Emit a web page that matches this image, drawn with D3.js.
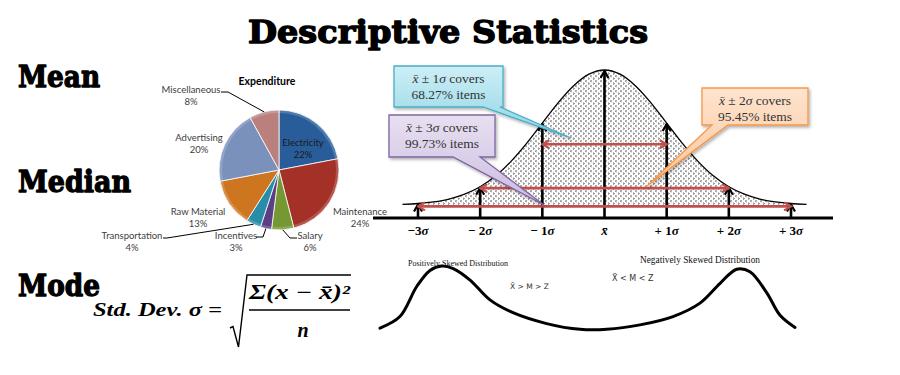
<!DOCTYPE html>
<html>
<head>
<meta charset="utf-8">
<script src="https://cdn.jsdelivr.net/npm/d3@7"></script>
<style>
  body { margin: 0; background: #fff; }
  svg { display: block; }
</style>
</head>
<body>
<script>
// ---- Expenditure pie ----
const categories = ["Electricity", "Maintenance", "Salary", "Incentives", "Transportation", "Raw Material", "Advertising", "Miscellaneous"];
const shares = [22, 24, 6, 3, 4, 13, 20, 8];
const sliceColors = ["#2F6DB5", "#C0392F", "#8AB23C", "#6A4A9C", "#2FA6C6", "#F28B24", "#8EAADB", "#D99694"];

// ---- Normal curve: height relative to the peak at each z ----
const bellZ = [-3.25, -3, -2.75, -2.5, -2.25, -2, -1.75, -1.5, -1.25, -1, -0.75, -0.5, -0.25, 0,
               0.25, 0.5, 0.75, 1, 1.25, 1.5, 1.75, 2, 2.25, 2.5, 2.75, 3, 3.25];
const bellH = [0.005, 0.011, 0.023, 0.044, 0.080, 0.135, 0.216, 0.325, 0.458, 0.607, 0.755, 0.882, 0.969, 1,
               0.969, 0.882, 0.755, 0.607, 0.458, 0.325, 0.216, 0.135, 0.080, 0.044, 0.023, 0.011, 0.005];

const sigmaTicks = [-3, -2, -1, 0, 1, 2, 3];
const sigmaLabels = [["−3", "σ"], ["− 2", "σ"], ["− 1", "σ"], ["", "x̄"], ["+ 1", "σ"], ["+ 2", "σ"], ["+ 3", "σ"]];

// coverage of x̄ ± kσ
const coverK = [1, 2, 3];
const coverPct = ["68.27%", "95.45%", "99.73%"];

// ---- Skewed distributions profile ----
const skewX = [0, 0.96, 1.77, 2.41, 2.97, 3.53, 4.34, 5.30, 6.41, 8.03, 9.64, 10.93, 12.53, 14.12, 15.42, 16.39, 17.19, 17.83, 18.64, 19.28, 20];
const skewY = [0.03, 0.21, 0.68, 0.93, 1.0, 0.96, 0.78, 0.47, 0.27, 0.10, 0.01, 0.01, 0.08, 0.21, 0.42, 0.73, 0.95, 0.91, 0.58, 0.23, 0.04];

const W = 900, H = 375;
const svg = d3.select("body").append("svg").attr("width", W).attr("height", H);
svg.append("rect").attr("width", W).attr("height", H).attr("fill", "#fff");
const defs = svg.append("defs");

const heavy = "'DejaVu Serif', serif";
const mathFont = "'Liberation Serif', 'DejaVu Serif', serif";

// ---------- Headings ----------
svg.append("text")
  .attr("x", 248).attr("y", 43)
  .attr("textLength", 400).attr("lengthAdjust", "spacingAndGlyphs")
  .style("font-family", heavy).style("font-weight", 900).style("font-size", "32px")
  .attr("stroke", "#000").attr("stroke-width", 1.4).attr("stroke-linejoin", "round")
  .text("Descriptive Statistics");

const sideHeads = [["Mean", 87, 82], ["Median", 192, 113], ["Mode", 296, 82]];
svg.selectAll("text.side").data(sideHeads).join("text")
  .attr("class", "side")
  .attr("x", 18).attr("y", d => d[1])
  .attr("textLength", d => d[2]).attr("lengthAdjust", "spacingAndGlyphs")
  .style("font-family", heavy).style("font-weight", 900).style("font-size", "30px")
  .attr("stroke", "#000").attr("stroke-width", 1.3).attr("stroke-linejoin", "round")
  .text(d => d[0]);

// ---------- Pie ----------
const pc = { x: 279, y: 170 }, R = 60;
const pieData = d3.pie().sort(null).value(d => d)(shares);
const arc = d3.arc().innerRadius(0).outerRadius(R);

sliceColors.forEach((c, i) => {
  const g = defs.append("radialGradient").attr("id", "sl" + i)
    .attr("gradientUnits", "userSpaceOnUse")
    .attr("cx", pc.x - 12).attr("cy", pc.y - 12).attr("r", R * 1.25);
  g.append("stop").attr("offset", "0").attr("stop-color", d3.color(c).brighter(0.35));
  g.append("stop").attr("offset", "0.7").attr("stop-color", c);
  g.append("stop").attr("offset", "1").attr("stop-color", d3.color(c).darker(0.45));
});

const pieG = svg.append("g").attr("transform", `translate(${pc.x},${pc.y})`);
pieG.selectAll("path").data(pieData).join("path")
  .attr("d", arc)
  .attr("fill", (d, i) => `url(#sl${i})`)
  .attr("stroke", "#fff").attr("stroke-width", 0.8);
// rim highlight
pieG.selectAll("path.rim").data(pieData).join("path")
  .attr("class", "rim")
  .attr("d", d3.arc().innerRadius(R - 3).outerRadius(R))
  .attr("fill", "#fff").attr("opacity", 0.18);

svg.append("text").attr("x", 267).attr("y", 85).attr("text-anchor", "middle")
  .style("font-family", "Lato, 'Open Sans', sans-serif").style("font-weight", 700).style("font-size", "10.5px")
  .attr("fill", "#000").text("Expenditure");

// label layout: position of the name line, plus leader start and elbow
const labelLayout = {
  "Electricity":   { x: 303, y: 146 },
  "Maintenance":   { x: 360, y: 215 },
  "Salary":        { x: 310, y: 239, lead: [[297, 238], [290, 238]] },
  "Incentives":    { x: 236, y: 239, lead: [[256, 237], [263, 237]] },
  "Transportation":{ x: 132, y: 239, lead: [[163, 238], [167, 238]] },
  "Raw Material":  { x: 198, y: 215 },
  "Advertising":   { x: 199, y: 141 },
  "Miscellaneous": { x: 191, y: 93, lead: [[221, 92], [228, 92]] }
};

const lbl = svg.append("g")
  .style("font-family", "Lato, 'Open Sans', sans-serif").style("font-size", "9.5px")
  .attr("fill", "#404040").attr("text-anchor", "middle");
pieData.forEach((d, i) => {
  const L = labelLayout[categories[i]];
  const t = lbl.append("text").attr("x", L.x).attr("y", L.y)
    .attr("fill", categories[i] === "Electricity" ? "#1a1a1a" : "#404040");
  t.append("tspan").attr("x", L.x).text(categories[i]);
  t.append("tspan").attr("x", L.x).attr("dy", 11.5).text(shares[i] + "%");
  if (L.lead) {
    const a = (d.startAngle + d.endAngle) / 2;
    const anchor = [pc.x + R * Math.sin(a), pc.y - R * Math.cos(a)];
    svg.append("path")
      .attr("d", d3.line()([L.lead[0], L.lead[1], anchor]))
      .attr("fill", "none").attr("stroke", "#000").attr("stroke-width", 1);
  }
});

// ---------- Normal curve ----------
const xSig = d3.scaleLinear().domain([-3, 3]).range([418, 791]);
const yBell = d3.scaleLinear().domain([0, 1]).range([205, 70]);
const axisY = 218;

// small "< >" stipple used under the curve
const pat = defs.append("pattern").attr("id", "dots")
  .attr("patternUnits", "userSpaceOnUse").attr("width", 5).attr("height", 5);
pat.append("path").attr("d", "M1.6,0.3 L0.4,1.1 L1.6,1.9").attr("stroke", "#222").attr("stroke-width", 0.75).attr("fill", "none");
pat.append("path").attr("d", "M3.2,2.8 L4.4,3.6 L3.2,4.4").attr("stroke", "#222").attr("stroke-width", 0.75).attr("fill", "none");

const bellPts = bellZ.map((z, i) => [z, bellH[i]]);
svg.append("path").datum(bellPts)
  .attr("d", d3.area().x(d => xSig(d[0])).y0(yBell(0)).y1(d => yBell(d[1])).curve(d3.curveCatmullRom))
  .attr("fill", "url(#dots)");
svg.append("path").datum(bellPts)
  .attr("d", d3.line().x(d => xSig(d[0])).y(d => yBell(d[1])).curve(d3.curveCatmullRom))
  .attr("fill", "none").attr("stroke", "#000").attr("stroke-width", 1.3);

function headMarker(id, color) {
  defs.append("marker").attr("id", id)
    .attr("viewBox", "0 0 10 10").attr("refX", 8.5).attr("refY", 5)
    .attr("markerUnits", "userSpaceOnUse").attr("markerWidth", 10).attr("markerHeight", 10)
    .attr("orient", "auto-start-reverse")
    .append("path").attr("d", "M1.5,1 L8.5,5 L1.5,9")
    .attr("fill", "none").attr("stroke", color).attr("stroke-width", 2.2).attr("stroke-linejoin", "miter");
}
headMarker("blk", "#000");
headMarker("red", "#C0504D");

// axis baseline
svg.append("line").attr("x1", 373).attr("x2", 833).attr("y1", axisY).attr("y2", axisY)
  .attr("stroke", "#000").attr("stroke-width", 3);

// vertical arrows from the axis up to the curve
svg.selectAll("line.varr").data(sigmaTicks).join("line")
  .attr("class", "varr")
  .attr("x1", d => xSig(d)).attr("x2", d => xSig(d))
  .attr("y1", axisY).attr("y2", d => yBell(bellH[bellZ.indexOf(d)]) + 1)
  .attr("stroke", "#000").attr("stroke-width", 2.6)
  .attr("marker-end", "url(#blk)");

// tick labels
const tl = svg.append("g").style("font-family", mathFont).style("font-weight", 700).style("font-size", "13px")
  .attr("text-anchor", "middle").attr("fill", "#000");
sigmaTicks.forEach((k, i) => {
  const t = tl.append("text").attr("x", xSig(k)).attr("y", 235);
  t.append("tspan").text(sigmaLabels[i][0]);
  t.append("tspan").style("font-style", "italic").text(sigmaLabels[i][1]);
});

// red coverage arrows (level in curve-height units)
const coverLevel = { 1: 0.45, 2: 0.125, 3: -0.01 };
svg.selectAll("line.harr").data(coverK).join("line")
  .attr("class", "harr")
  .attr("x1", k => xSig(-k)).attr("x2", k => xSig(k))
  .attr("y1", k => yBell(coverLevel[k])).attr("y2", k => yBell(coverLevel[k]))
  .attr("stroke", "#C0504D").attr("stroke-width", 2.6)
  .attr("marker-start", "url(#red)").attr("marker-end", "url(#red)");

// ---------- Skewed distributions ----------
const xSk = d3.scaleLinear().domain([0, 20]).range([380, 795]);
const ySk = d3.scaleLinear().domain([0, 1]).range([330, 266]);
svg.append("path").datum(skewX.map((x, i) => [x, skewY[i]]))
  .attr("d", d3.line().x(d => xSk(d[0])).y(d => ySk(d[1])).curve(d3.curveCatmullRom))
  .attr("fill", "none").attr("stroke", "#000").attr("stroke-width", 3).attr("stroke-linecap", "round");

svg.append("text").attr("x", 408).attr("y", 266).attr("textLength", 100).attr("lengthAdjust", "spacingAndGlyphs")
  .style("font-family", mathFont).style("font-size", "8.5px").attr("fill", "#111").text("Positively Skewed Distribution");
svg.append("text").attr("x", 640).attr("y", 263).attr("textLength", 120).attr("lengthAdjust", "spacingAndGlyphs")
  .style("font-family", mathFont).style("font-size", "9.5px").attr("fill", "#111").text("Negatively Skewed Distribution");
svg.append("text").attr("x", 510).attr("y", 289)
  .style("font-family", "'DejaVu Sans', sans-serif").style("font-size", "7.5px").attr("fill", "#333").text("X̄ > M > Z");
svg.append("text").attr("x", 612).attr("y", 281)
  .style("font-family", "'DejaVu Sans', sans-serif").style("font-size", "8px").attr("fill", "#333").text("X̄ < M < Z");

// ---------- Standard deviation formula ----------
const fm = svg.append("g").style("font-family", mathFont).style("font-weight", 700).style("font-style", "italic").attr("fill", "#000");
fm.append("text").attr("x", 93).attr("y", 316).attr("textLength", 129).attr("lengthAdjust", "spacingAndGlyphs")
  .style("font-size", "19px").text("Std. Dev. σ =");
fm.append("text").attr("x", 249).attr("y", 299).attr("textLength", 101).attr("lengthAdjust", "spacingAndGlyphs")
  .style("font-size", "20px").text("Σ(x − x̄)²");
fm.append("text").attr("x", 303).attr("y", 337).attr("text-anchor", "middle")
  .style("font-size", "20px").text("n");
svg.append("line").attr("x1", 249).attr("x2", 350).attr("y1", 310).attr("y2", 310)
  .attr("stroke", "#000").attr("stroke-width", 1.5);
svg.append("path")
  .attr("d", d3.line()([[230, 328], [233, 326.5], [238.5, 347], [247, 275], [351, 275]]))
  .attr("fill", "none").attr("stroke", "#000").attr("stroke-width", 1.4).attr("stroke-linejoin", "miter");

// ---------- Callouts ----------
const shadow = defs.append("filter").attr("id", "shd").attr("x", "-10%").attr("y", "-10%").attr("width", "130%").attr("height", "140%");
shadow.append("feDropShadow").attr("dx", 1.5).attr("dy", 2).attr("stdDeviation", 1.5).attr("flood-color", "#000").attr("flood-opacity", 0.3);

function vgrad(id, top, bottom) {
  const g = defs.append("linearGradient").attr("id", id).attr("x1", 0).attr("y1", 0).attr("x2", 0).attr("y2", 1);
  g.append("stop").attr("offset", 0).attr("stop-color", top);
  g.append("stop").attr("offset", 1).attr("stop-color", bottom);
}
vgrad("gCyan", "#CDEFF6", "#8ED4E4");
vgrad("gPurple", "#E8E0F1", "#CBBCDF");
vgrad("gOrange", "#FEE4CF", "#FBC59A");

const callouts = [
  { k: 1, box: [394, 66, 109, 41], base: [483, 500], tip: [571, 138], fill: "gCyan", stroke: "#4BACC6" },
  { k: 3, box: [389, 115, 106, 42], base: [453, 480], tip: [544, 205], fill: "gPurple", stroke: "#8064A2" },
  { k: 2, box: [702, 88, 106, 37], base: [712, 728], tip: [647, 186], fill: "gOrange", stroke: "#F79646" }
];

callouts.forEach(c => {
  const [x, y, w, h] = c.box;
  const p = d3.path();
  p.moveTo(x, y); p.lineTo(x + w, y); p.lineTo(x + w, y + h);
  p.lineTo(c.base[1], y + h); p.lineTo(c.tip[0], c.tip[1]); p.lineTo(c.base[0], y + h);
  p.lineTo(x, y + h); p.closePath();
  svg.append("path").attr("d", p.toString())
    .attr("fill", `url(#${c.fill})`).attr("stroke", c.stroke).attr("stroke-width", 1.3)
    .attr("filter", "url(#shd)");
  const cx = x + w / 2;
  const t1 = svg.append("text").attr("x", cx).attr("y", y + 16.5).attr("text-anchor", "middle")
    .style("font-family", mathFont).style("font-size", "13.5px").attr("fill", "#333");
  t1.append("tspan").style("font-style", "italic").text("x̄");
  t1.append("tspan").text(" ± " + c.k);
  t1.append("tspan").style("font-style", "italic").text("σ");
  t1.append("tspan").text(" covers");
  svg.append("text").attr("x", cx).attr("y", y + 32.5).attr("text-anchor", "middle")
    .style("font-family", mathFont).style("font-size", "13.5px").attr("fill", "#333")
    .text(coverPct[coverK.indexOf(c.k)] + " items");
});
</script>
</body>
</html>
